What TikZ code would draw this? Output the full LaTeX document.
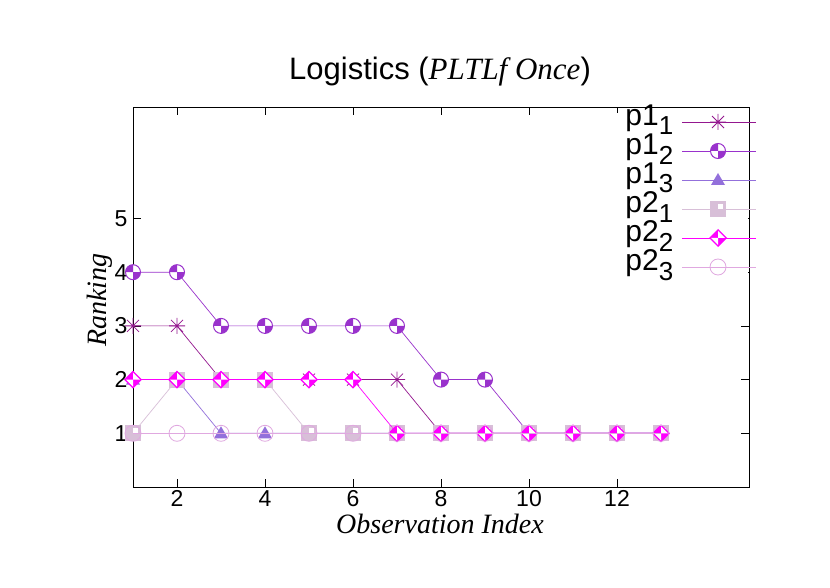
\documentclass[tikz,border=0pt]{standalone}
\usepackage{fontspec}
\setmainfont{Liberation Sans}
\newfontfamily\serifit{Liberation Serif}
\begin{document}
\definecolor{cA}{HTML}{94178F}
\definecolor{cB}{HTML}{9932CC}
\definecolor{cC}{HTML}{9370DB}
\definecolor{cD}{HTML}{D8BFD8}
\definecolor{cE}{HTML}{FF00FF}
\definecolor{cF}{HTML}{E0A8E0}
\tikzset{
 pics/pstar/.style={code={\draw[#1,line width=0.8pt] (-8pt,0)--(8pt,0) (0,-8pt)--(0,8pt) (-6pt,-6pt)--(6pt,6pt) (-6pt,6pt)--(6pt,-6pt);}},
 pics/pqc/.style={code={\fill[white](0,0) circle(7.5pt); \fill[#1] (0,0)--(-7.5pt,0) arc(180:90:7.5pt)--cycle; \fill[#1] (0,0)--(7.5pt,0) arc(0:-90:7.5pt)--cycle; \draw[#1,line width=1pt](0,0) circle(7.5pt);}},
 pics/ptri/.style={code={\fill[#1] (-7pt,-5pt)--(7pt,-5pt)--(0,7pt)--cycle;}},
 pics/psq/.style={code={\fill[#1] (-8pt,-8pt) rectangle (8pt,8pt); \fill[white] (0,0) rectangle (5pt,5pt);}},
 pics/pdia/.style={code={\fill[#1] (-9pt,0)--(0,9pt)--(9pt,0)--(0,-9pt)--cycle; \fill[white] (0,0)--(0,7pt)--(7pt,0)--cycle; \fill[white] (0,0)--(0,-7pt)--(-7pt,0)--cycle;}},
 pics/poc/.style={code={\draw[#1,line width=.8pt](0,0) circle(8pt);}},
 ln/.style={line width=0.7pt},
 tk/.style={font=\fontsize{23}{23}\selectfont},
 lg/.style={font=\fontsize{30}{30}\selectfont,anchor=east,inner sep=0pt}
}
\begin{tikzpicture}
\useasboundingbox[fill=white] (0,0) rectangle (830pt,587pt);
\node at (440pt,515pt) {\fontsize{31}{31}\selectfont Logistics ({\serifit\itshape PLTLf Once})};
\node[rotate=90] at (100pt,287pt) {\fontsize{28}{28}\selectfont\serifit\itshape Ranking};
\node[inner sep=0pt] at (440pt,63pt) {\fontsize{28}{28}\selectfont\serifit\itshape Observation Index};
\begin{scope}[shift={(133pt,100pt)},x=44pt,y=53.7pt]
\draw[line width=0.8pt] (0,0) rectangle (14,7.07);
\foreach \i in {2,4,...,12} {\draw (\i-1,0)--++(0,8pt) (\i-1,7.07)--++(0,-8pt); \node[tk,below,inner sep=2pt] at (\i-1,-1pt) {\i};}
\foreach \j in {1,...,5} {\draw (0,\j)--++(8pt,0) (14,\j)--++(-8pt,0); \node[tk,left] at (-2pt,\j) {\j};}
\draw[ln,cA] (0,3)--(1,3)--(2,2)--(6,2)--(7,1)--(12,1);
\foreach \x/\y in {0/3,1/3,2/2,3/2,4/2,5/2,6/2,7/1,8/1,9/1,10/1,11/1,12/1} \pic at (\x,\y) {pstar=cA};
\draw[ln,cB] (0,4)--(1,4)--(2,3)--(6,3)--(7,2)--(8,2)--(9,1)--(12,1);
\foreach \x/\y in {0/4,1/4,2/3,3/3,4/3,5/3,6/3,7/2,8/2,9/1,10/1,11/1,12/1} \pic at (\x,\y) {pqc=cB};
\draw[ln,cC] (0,2)--(1,2)--(2,1)--(12,1);
\foreach \x/\y in {0/2,1/2,2/1,3/1,4/1,5/1,6/1,7/1,8/1,9/1,10/1,11/1,12/1} \pic at (\x,\y) {ptri=cC};
\draw[ln,cD] (0,1)--(1,2)--(3,2)--(4,1)--(12,1);
\foreach \x/\y in {0/1,1/2,2/2,3/2,4/1,5/1,6/1,7/1,8/1,9/1,10/1,11/1,12/1} \pic at (\x,\y) {psq=cD};
\draw[ln,cE] (0,2)--(5,2)--(6,1)--(12,1);
\foreach \x/\y in {0/2,1/2,2/2,3/2,4/2,5/2,6/1,7/1,8/1,9/1,10/1,11/1,12/1} \pic at (\x,\y) {pdia=cE};
\draw[ln,cF] (0,1)--(12,1);
\foreach \x/\y in {0/1,1/1,2/1,3/1,4/1,5/1,6/1,7/1,8/1,9/1,10/1,11/1,12/1} \pic at (\x,\y) {poc=cF};
\end{scope}
\fill[white] (600pt,300pt) rectangle (748pt,474pt);
\foreach \n/\s/\c/\m [count=\k from 0] in {1/1/cA/pstar,1/2/cB/pqc,1/3/cC/ptri,2/1/cD/psq,2/2/cE/pdia,2/3/cF/poc}{
 \node[lg] at (674pt,{(467-29*\k)*1pt}) {p\n$_{\mbox{\fontsize{26}{26}\selectfont\s}}$};
 \draw[ln,\c] (682pt,{(465-29*\k)*1pt})--(756pt,{(465-29*\k)*1pt});
 \pic at (718pt,{(465-29*\k)*1pt}) {\m=\c};
}
\end{tikzpicture}
\end{document}
